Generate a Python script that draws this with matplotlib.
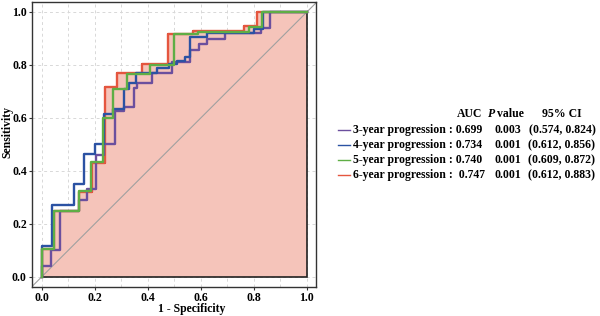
import matplotlib
matplotlib.use("Agg")
import matplotlib.pyplot as plt
import numpy as np

plt.rcParams['font.family'] = ['Liberation Serif', 'DejaVu Serif']

# ROC step curves (FPR, TPR)
fpr_3 = [0, 0, 0.035, 0.035, 0.07, 0.07, 0.14, 0.14, 0.17, 0.17, 0.205, 0.205, 0.234, 0.234, 0.278, 0.278, 0.31, 0.31, 0.347, 0.347, 0.36, 0.36, 0.417, 0.417, 0.491, 0.491, 0.56, 0.56, 0.592, 0.592, 0.623, 0.623, 0.692, 0.692, 0.826, 0.826, 0.86, 0.86, 1.0]
tpr_3 = [0, 0.04, 0.04, 0.10, 0.10, 0.25, 0.25, 0.29, 0.29, 0.333, 0.333, 0.46, 0.46, 0.50, 0.50, 0.625, 0.625, 0.643, 0.643, 0.712, 0.712, 0.73, 0.73, 0.77, 0.77, 0.812, 0.812, 0.857, 0.857, 0.878, 0.878, 0.897, 0.897, 0.92, 0.92, 0.938, 0.938, 1.0, 1.0]

fpr_4 = [0, 0, 0.04, 0.04, 0.12, 0.12, 0.158, 0.158, 0.2, 0.2, 0.234, 0.234, 0.27, 0.27, 0.31, 0.31, 0.33, 0.33, 0.357, 0.357, 0.435, 0.435, 0.48, 0.48, 0.51, 0.51, 0.54, 0.54, 0.56, 0.56, 0.623, 0.623, 0.80, 0.80, 0.836, 0.836, 1.0]
tpr_4 = [0, 0.115, 0.115, 0.27, 0.27, 0.35, 0.35, 0.463, 0.463, 0.50, 0.50, 0.615, 0.615, 0.633, 0.633, 0.71, 0.71, 0.73, 0.73, 0.77, 0.77, 0.79, 0.79, 0.805, 0.805, 0.815, 0.815, 0.83, 0.83, 0.905, 0.905, 0.92, 0.92, 0.935, 0.935, 1.0, 1.0]

fpr_5 = [0, 0, 0.045, 0.045, 0.14, 0.14, 0.185, 0.185, 0.23, 0.23, 0.27, 0.27, 0.32, 0.32, 0.41, 0.41, 0.50, 0.50, 0.59, 0.59, 0.78, 0.78, 0.83, 0.83, 1.0]
tpr_5 = [0, 0.105, 0.105, 0.25, 0.25, 0.326, 0.326, 0.435, 0.435, 0.60, 0.60, 0.71, 0.71, 0.765, 0.765, 0.80, 0.80, 0.916, 0.916, 0.925, 0.925, 0.945, 0.945, 1.0, 1.0]

fpr_6 = [0, 0, 0.045, 0.045, 0.14, 0.14, 0.19, 0.19, 0.237, 0.237, 0.285, 0.285, 0.378, 0.378, 0.476, 0.476, 0.57, 0.57, 0.761, 0.761, 0.812, 0.812, 1.0]
tpr_6 = [0, 0.105, 0.105, 0.25, 0.25, 0.32, 0.32, 0.43, 0.43, 0.716, 0.716, 0.769, 0.769, 0.804, 0.804, 0.916, 0.916, 0.93, 0.93, 0.947, 0.947, 1.0, 1.0]

labels = ["3-year progression : 0.699", "4-year progression : 0.734",
          "5-year progression : 0.740", "6-year progression :  0.747"]
pvals = ["0.003", "0.001", "0.001", "0.001"]
cis = ["(0.574, 0.824)", "(0.612, 0.856)", "(0.609, 0.872)", "(0.612, 0.883)"]
colors = ["#6b4f9e", "#2b52a3", "#5fae45", "#e5563f"]

fig = plt.figure(figsize=(6, 3.16), dpi=100)
ax = fig.add_axes([0.054, 0.092, 0.473, 0.902])

ax.set_xlim(-0.035, 1.035)
ax.set_ylim(-0.038, 1.038)

# grid
for gx in np.arange(0, 1.01, 0.1):
    ax.axvline(gx, color="#d8d8d8", lw=0.7, ls=(0, (3, 3)), zorder=0)
for gy in np.arange(0, 1.01, 0.2):
    ax.axhline(gy, color="#d8d8d8", lw=0.7, ls=(0, (3, 3)), zorder=0)

# fill under 6-year curve
poly_x = list(fpr_6) + [1.0, 0]
poly_y = list(tpr_6) + [0, 0]
ax.fill(poly_x, poly_y, facecolor="#f5c4ba", edgecolor="#222222", lw=1.2, zorder=1)

# diagonal
ax.plot([-0.05, 1.05], [-0.05, 1.05], color="#a0a0a0", lw=0.8, zorder=2)

lw = 1.7
ax.plot(fpr_6, tpr_6, color=colors[3], lw=lw, zorder=3)
ax.plot(fpr_3, tpr_3, color=colors[0], lw=lw, zorder=4)
ax.plot(fpr_4, tpr_4, color=colors[1], lw=lw, zorder=5)
ax.plot(fpr_5, tpr_5, color=colors[2], lw=lw, zorder=6)

ticks = [0.0, 0.2, 0.4, 0.6, 0.8, 1.0]
ax.set_xticks(ticks)
ax.set_yticks(ticks)
ax.set_xticklabels([f"{t:.1f}" for t in ticks], fontsize=8.5, fontweight="bold")
ax.set_yticklabels([f"{t:.1f}" for t in ticks], fontsize=8.5, fontweight="bold")
ax.tick_params(length=2.5, width=0.8, pad=1.5, colors="#333333", labelcolor="black")
ax.tick_params(axis="x", pad=0.8)
for s in ax.spines.values():
    s.set_color("#333333")
    s.set_linewidth(1.0)

# axis titles (offset from the panel centre as in the original)
fig.text(192 / 600, 1 - 315 / 316, "1 - Specificity", fontsize=8.5, fontweight="bold",
         ha="center", va="bottom")
fig.text(7 / 600, 1 - 132 / 316, "Sensitivity", fontsize=8.5, fontweight="bold",
         ha="center", va="center", rotation=90)

# legend table
fs = 8.5
hy = 1 - 114 / 316
fig.text(470 / 600, hy, "AUC", fontsize=fs, fontweight="bold", ha="center", va="center")
fig.text(488 / 600, hy, "P", fontsize=fs, fontweight="bold", style="italic", ha="left", va="center")
fig.text(497 / 600, hy, "value", fontsize=fs, fontweight="bold", ha="left", va="center")
fig.text(562 / 600, hy, "95% CI", fontsize=fs, fontweight="bold", ha="center", va="center")
rows_y = [130, 145, 160, 175]
for i in range(4):
    yy = 1 - rows_y[i] / 316
    fig.add_artist(plt.Line2D([338 / 600, 350 / 600], [yy, yy], color=colors[i], lw=1.0))
    fig.text(353 / 600, yy, labels[i], fontsize=fs, fontweight="bold", ha="left", va="center")
    fig.text(508 / 600, yy, pvals[i], fontsize=fs, fontweight="bold", ha="center", va="center")
    fig.text(562 / 600, yy, cis[i], fontsize=fs, fontweight="bold", ha="center", va="center")

fig.savefig("out.png", dpi=100)
